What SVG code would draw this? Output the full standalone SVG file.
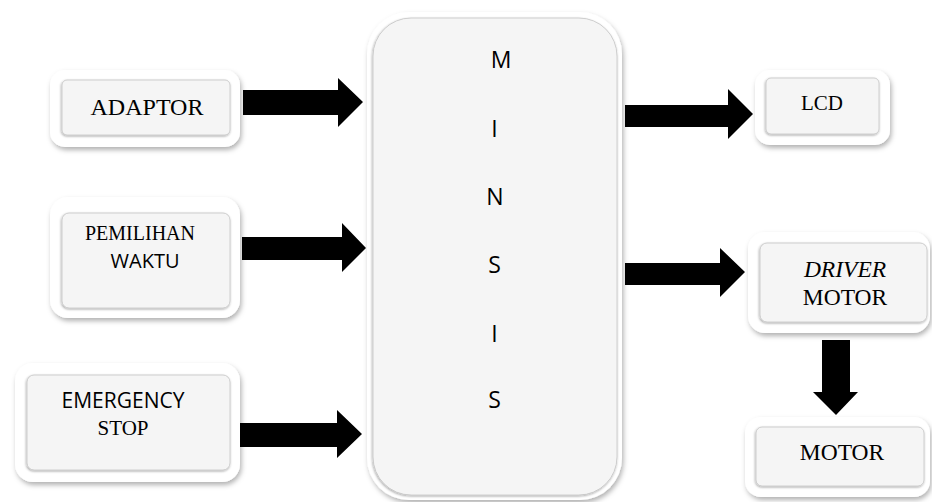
<svg xmlns="http://www.w3.org/2000/svg" width="932" height="502" viewBox="0 0 932 502">
  <defs>
    <filter id="soft" x="-20%" y="-20%" width="140%" height="140%">
      <feDropShadow dx="1.5" dy="3" stdDeviation="2.5" flood-color="#000" flood-opacity="0.3"/>
    </filter>
    <filter id="bevel" x="-10%" y="-10%" width="120%" height="120%">
      <feDropShadow dx="-0.5" dy="1" stdDeviation="0.8" flood-color="#000" flood-opacity="0.35"/>
    </filter>
  </defs>
  <style>
    .frame { fill: #ffffff; filter: url(#soft); }
    .face { fill: #f5f5f5; stroke: #c4c4c4; stroke-width: 0.8; filter: url(#bevel); }
    .serif { font-family: "Liberation Serif", "Times New Roman", serif; fill: #000; text-anchor: middle; }
    .sans { font-family: "Open Sans", "Liberation Sans", sans-serif; fill: #000; text-anchor: middle; }
    .arrow { fill: #000; }
  </style>
  <rect width="932" height="502" fill="#ffffff"/>

  <!-- block arrows -->
  <g id="connectors">
    <polygon class="arrow" points="243,90 338,90 338,78 363,102 338,127 338,115 243,115"/>
    <polygon class="arrow" points="242,237 342,237 342,223 366,248 342,272 342,260 242,260"/>
    <polygon class="arrow" points="240,423 337,423 337,410 362,434 337,458 337,447 240,447"/>
    <polygon class="arrow" points="625,105 728,105 728,89 753,114 728,139 728,127 625,127"/>
    <polygon class="arrow" points="625,263 720,263 720,248 745,272 720,297 720,285 625,285"/>
    <polygon class="arrow" points="822,340 850,340 850,392 858,392 836,415 813,392 822,392"/>
  </g>

  <g id="adaptor">
    <rect class="frame" x="50" y="70" width="190" height="77" rx="15"/>
    <rect class="face" x="62" y="80" width="168" height="55" rx="5"/>
    <text class="serif" x="147" y="115" font-size="24">ADAPTOR</text>
  </g>

  <g id="pemilihan-waktu">
    <rect class="frame" x="50" y="197" width="190" height="121" rx="18"/>
    <rect class="face" x="62" y="213" width="168" height="95" rx="7"/>
    <text class="serif" x="140" y="240" font-size="20">PEMILIHAN</text>
    <text class="sans" x="145" y="268" font-size="20">WAKTU</text>
  </g>

  <g id="emergency-stop">
    <rect class="frame" x="15" y="363" width="225" height="119" rx="18"/>
    <rect class="face" x="27" y="375" width="203" height="95" rx="7"/>
    <text class="sans" x="123" y="408" font-size="21">EMERGENCY</text>
    <text class="serif" x="123" y="435" font-size="21">STOP</text>
  </g>

  <g id="minsis">
    <rect class="frame" x="367" y="12" width="255" height="488" rx="42"/>
    <rect class="face" x="373" y="18" width="244" height="477" rx="38"/>
    <text class="sans" x="501" y="68" font-size="23">M</text>
    <text class="sans" x="494.5" y="137" font-size="23">I</text>
    <text class="sans" x="495" y="205" font-size="23">N</text>
    <text class="sans" x="494.5" y="273" font-size="23">S</text>
    <text class="sans" x="494.5" y="342" font-size="23">I</text>
    <text class="sans" x="494.5" y="408" font-size="23">S</text>
  </g>

  <g id="lcd">
    <rect class="frame" x="755" y="70" width="135" height="75" rx="15"/>
    <rect class="face" x="766" y="78" width="113" height="56" rx="5"/>
    <text class="serif" x="822" y="110" font-size="21">LCD</text>
  </g>

  <g id="driver-motor">
    <rect class="frame" x="748" y="232" width="182" height="101" rx="17"/>
    <rect class="face" x="760" y="243" width="167" height="79" rx="7"/>
    <text class="serif" x="845" y="277" font-size="23.5" font-style="italic">DRIVER</text>
    <text class="serif" x="845" y="305" font-size="23.5">MOTOR</text>
  </g>

  <g id="motor">
    <rect class="frame" x="745" y="417" width="185" height="80" rx="16"/>
    <rect class="face" x="756" y="427" width="168" height="59" rx="6"/>
    <text class="serif" x="842" y="460" font-size="23.5">MOTOR</text>
  </g>
</svg>
